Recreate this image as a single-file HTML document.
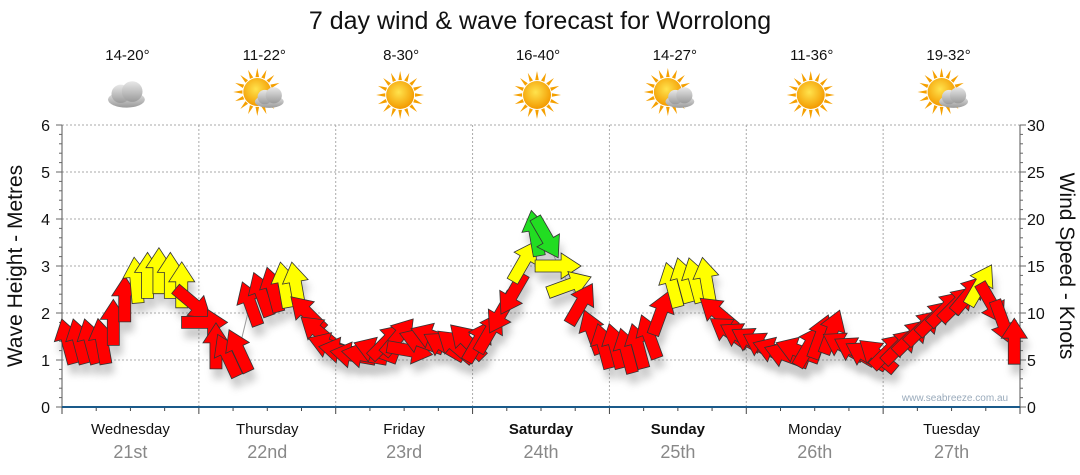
<!DOCTYPE html>
<html><head><meta charset="utf-8"><style>
body{margin:0;background:#fff;}
svg{display:block;font-family:"Liberation Sans",sans-serif;}
</style></head><body>
<svg id="chart" width="1080" height="475" viewBox="0 0 1080 475">
<defs>
<filter id="sh" x="-50%" y="-50%" width="200%" height="200%"><feGaussianBlur stdDeviation="4"/></filter>
<radialGradient id="sun" cx="0.45" cy="0.4" r="0.6"><stop offset="0" stop-color="#ffe34d"/><stop offset="1" stop-color="#f39a00"/></radialGradient>
<linearGradient id="cl" x1="0" y1="0" x2="0" y2="1"><stop offset="0" stop-color="#e8e8e8"/><stop offset="1" stop-color="#9a9a9a"/></linearGradient>
</defs>
<text x="540" y="29" text-anchor="middle" font-size="25" fill="#111">7 day wind &amp; wave forecast for Worrolong</text>
<g id="grid"></g>
<g id="axes"></g>
<g id="icons"></g>
<g id="shadows" opacity="0.35"></g>
<path id="windline" fill="none" stroke="#999" stroke-width="1"/>
<g id="arrows"></g>
<text x="955" y="401" text-anchor="middle" font-size="10" fill="#9ab">www.seabreeze.com.au</text>
<text transform="translate(22,266) rotate(-90)" text-anchor="middle" font-size="21" fill="#111">Wave Height - Metres</text>
<text transform="translate(1060,266) rotate(90)" text-anchor="middle" font-size="21" fill="#111">Wind Speed - Knots</text>
</svg>
<script>
const days = ["Wednesday","Thursday","Friday","Saturday","Sunday","Monday","Tuesday"];
const dates = ["21st","22nd","23rd","24th","25th","26th","27th"];
const boldDays = [false,false,false,true,true,false,false];
const temps = ["14-20°","11-22°","8-30°","16-40°","14-27°","11-36°","19-32°"];
const icons = ["cloud","suncloud","sun","sun","suncloud","sun","suncloud"];
const waveTicks = [0,1,2,3,4,5,6];
const windTicks = [0,5,10,15,20,25,30];
const windSpeed = [
7,7,7,7,9,11.5,13.5,14,14.5,14,13,11,
9,6.5,5.5,6,11,12,12.5,13,13,10,8,6.5,
6,5.5,5.5,6,7,7.5,6,7,7.5,6.5,6.5,7,
7,8,10,12,15.5,18.5,18,15,13,11,8,6.5,
6.5,6,6.5,7.5,10,13,13.5,13.5,13.5,10,8,7.5,
7,6.5,6,5.5,6,6.5,7.5,8,6.5,6,5.5,5.5,
6,6.5,7.5,8.5,9.5,10.5,11,12,13,11,9,7];
const windDir = [
-15,-15,-15,-10,0,0,-5,0,0,0,0,130,
90,0,-25,-25,-20,-20,-15,-10,-10,-45,-50,-70,
-80,-80,-80,-70,45,40,100,-70,-70,-60,-50,-45,
30,30,210,210,30,-10,150,90,70,30,-20,-15,
-15,-15,-15,-20,20,-15,-15,-15,-10,-50,-55,-60,
-60,-60,-70,-70,-70,30,20,20,-60,-60,-60,-50,
45,45,45,45,45,45,45,40,30,150,160,0];

const NS="http://www.w3.org/2000/svg";
const X0=62,X1=1020,Y0=407,Y1=125,DW=(X1-X0)/7;
const yW=v=>Y0-(v/6)*(Y0-Y1);
const yK=v=>Y0-(v/30)*(Y0-Y1);
const xI=i=>X0+(i+0.5)*DW/12;
function el(t,a,p){const e=document.createElementNS(NS,t);for(const k in a)e.setAttribute(k,a[k]);p.appendChild(e);return e;}
const grid=document.getElementById('grid'),axes=document.getElementById('axes');
waveTicks.forEach(v=>{if(v>0){const g=el('line',{x1:X0,x2:X1,y1:yW(v),y2:yW(v),stroke:'#aaa','stroke-dasharray':'2,2'},grid);

}
const t=el('text',{x:50,y:yW(v)+6,'text-anchor':'end','font-size':16,fill:'#111'},axes);t.textContent=v;

});
windTicks.forEach(v=>{const t=el('text',{x:1027,y:yK(v)+6,'font-size':16,fill:'#111'},axes);t.textContent=v;

});
for(let d=1;d<7;d++){const g=el('line',{x1:X0+d*DW,x2:X0+d*DW,y1:Y1,y2:Y0,stroke:'#aaa','stroke-dasharray':'2,2'},grid);

}
el('line',{x1:X0,x2:X0,y1:Y1,y2:Y0,stroke:'#555'},axes);
el('line',{x1:X1,x2:X1,y1:Y1,y2:Y0,stroke:'#555'},axes);
for(let v=0;v<=6.001;v+=0.2){const y=yW(v);const m=Math.abs(v-Math.round(v))<0.01;el('line',{x1:X0-(m?6:3),x2:X0,y1:y,y2:y,stroke:'#666'},axes);}
for(let v=0;v<=30;v+=1){const y=yK(v);el('line',{x1:X1,x2:X1+(v%5==0?6:3),y1:y,y2:y,stroke:'#666'},axes);}
for(let q=0;q<=28;q++){const x=X0+q*DW/4;el('line',{x1:x,x2:x,y1:Y0,y2:Y0+(q%4==0?7:4),stroke:'#444'},axes);}
el('line',{x1:X0,x2:X1,y1:Y0,y2:Y0,stroke:'#1a5a8a','stroke-width':2},axes);
const ic=document.getElementById('icons');
function sun(g,cx,cy){for(let k=0;k<16;k++){const a=k*Math.PI/8;el('polygon',{points:`${cx+Math.cos(a-0.12)*15},${cy+Math.sin(a-0.12)*15} ${cx+Math.cos(a)*24},${cy+Math.sin(a)*24} ${cx+Math.cos(a+0.12)*15},${cy+Math.sin(a+0.12)*15}`,fill:'#f5a000'},g);}
el('circle',{cx:cx,cy:cy,r:14,fill:'url(#sun)'},g);}
function cloud(g,cx,cy,s){el('ellipse',{cx:cx,cy:cy+4*s,rx:16*s,ry:7*s,fill:'url(#cl)'},g);el('circle',{cx:cx-5*s,cy:cy-1*s,r:8*s,fill:'url(#cl)'},g);el('circle',{cx:cx+5*s,cy:cy-3*s,r:9*s,fill:'url(#cl)'},g);}
days.forEach((d,i)=>{const cx=X0+(i+0.5)*DW;
const t=el('text',{x:cx,y:434,'text-anchor':'middle','font-size':15,fill:'#111','font-weight':boldDays[i]?'bold':'normal'},axes);t.textContent=d;


const t2=el('text',{x:cx,y:458,'text-anchor':'middle','font-size':18,fill:'#888'},axes);t2.textContent=dates[i];


const t3=el('text',{x:cx-3,y:60,'text-anchor':'middle','font-size':15,fill:'#111'},ic);t3.textContent=temps[i];


const g=el('g',{},ic);


if(icons[i]==='cloud'){cloud(g,cx-4,95,1.15);}
else if(icons[i]==='sun'){sun(g,cx-4,95);}
else{sun(g,cx-10,92);cloud(g,cx+2,98,0.9);}
});
let dpath='';windSpeed.forEach((v,i)=>{dpath+=(i?'L':'M')+xI(i)+','+yK(v);});
document.getElementById('windline').setAttribute('d',dpath);
const ar=document.getElementById('arrows'),sh=document.getElementById('shadows');
const pts="0,-23 13,-3 6,-3 6,23 -6,23 -6,-3 -13,-3";
windSpeed.forEach((v,i)=>{const x=xI(i),y=yK(v),a=windDir[i];
const col=v>=17.5?'#22dd22':(v>=12.8?'#ffff00':'#ff0000');
const s=el('polygon',{points:pts,fill:'#666',filter:'url(#sh)',transform:`translate(${x+3},${y+10}) rotate(${a})`},sh);


const p=el('polygon',{points:pts,fill:col,stroke:'#333','stroke-width':0.8,transform:`translate(${x},${y}) rotate(${a})`},ar);

});
</script>
</body></html>
